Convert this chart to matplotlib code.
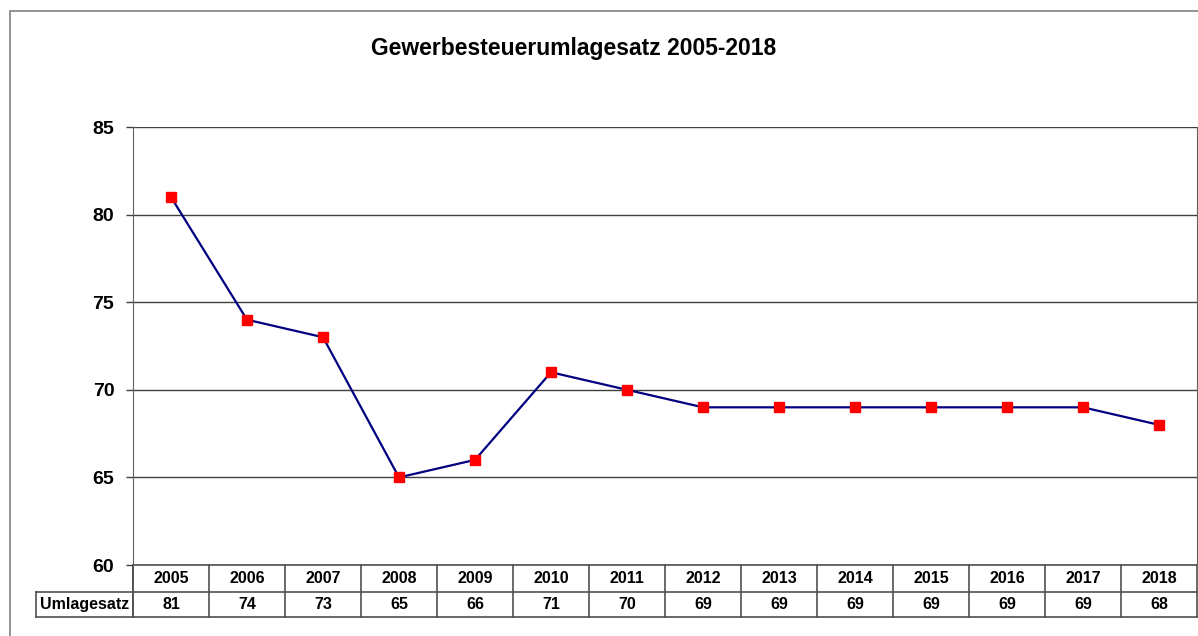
import matplotlib
matplotlib.use("Agg")
import matplotlib.pyplot as plt
from matplotlib.patches import Rectangle
from matplotlib.lines import Line2D
import matplotlib.transforms as mtransforms

years = ["2005", "2006", "2007", "2008", "2009", "2010", "2011",
         "2012", "2013", "2014", "2015", "2016", "2017", "2018"]
values = [81, 74, 73, 65, 66, 71, 70, 69, 69, 69, 69, 69, 69, 68]
yticks = [60, 65, 70, 75, 80, 85]
title = "Gewerbesteuerumlagesatz 2005-2018"
row_label = "Umlagesatz"

plt.rcParams['font.family'] = ['Liberation Sans', 'DejaVu Sans']

W, H = 1198, 636
fig = plt.figure(figsize=(W / 100, H / 100), dpi=100)

# outer chart border
fig.add_artist(Rectangle((9.5 / W, -0.2), 1.2, 1.2 - 10.5 / H, transform=fig.transFigure,
                         fill=False, edgecolor="#808080", linewidth=1.2))

left, right, top, bottom = 133, 1197, 127, 565
ax = fig.add_axes([left / W, 1 - bottom / H, (right - left) / W, (bottom - top) / H])

x = list(range(len(years)))
ax.plot(x, values, color="#000080", linewidth=1.6, zorder=3)
ax.plot(x, values, linestyle="none", marker="s", markersize=6.5,
        markerfacecolor="#ff0000", markeredgecolor="#ff0000", zorder=4)

ax.set_xlim(-0.5, len(years) - 0.5)
ax.set_ylim(yticks[0], yticks[-1])
ax.set_yticks(yticks)
ax.set_yticklabels([str(v) for v in yticks], fontsize=14, fontweight="bold")
ax.tick_params(axis="y", direction="out", length=5, width=1, color="#404040", pad=8.5)
ax.set_xticks([])
ax.yaxis.grid(True, color="#404040", linewidth=1)
ax.set_axisbelow(True)
for s in ["top", "bottom"]:
    ax.spines[s].set_visible(False)
ax.spines["left"].set_color("#606060")
ax.spines["right"].set_color("#606060")

fig.text(574 / W, 1 - 48 / H, title, ha="center", va="center",
         fontsize=16.5, fontweight="bold")

# data table below the axes
ah = bottom - top
aw = right - left
y0 = 0.0
y1 = -(592 - bottom) / ah
y2 = -(617 - bottom) / ah
trans = mtransforms.blended_transform_factory(ax.transData, ax.transAxes)
lc = "#505050"
n = len(years)
for i in range(n + 1):
    ax.add_line(Line2D([i - 0.5, i - 0.5], [y0, y2], transform=trans, color=lc,
                       linewidth=1.2, clip_on=False))
xl = -(left - 36) / aw
for yy in [y0, y1, y2]:
    xs = [0, 1] if yy == y0 else [xl, 1]
    ax.add_line(Line2D(xs, [yy, yy], transform=ax.transAxes, color=lc,
                       linewidth=1.2, clip_on=False))
ax.add_line(Line2D([xl, xl], [y1, y2], transform=ax.transAxes, color=lc,
                   linewidth=1.2, clip_on=False))
ax.add_line(Line2D([0, 0], [y0, y2], transform=ax.transAxes, color=lc,
                   linewidth=1.2, clip_on=False))
for i, (yr, v) in enumerate(zip(years, values)):
    ax.text(i, (y0 + y1) / 2, yr, transform=trans, ha="center", va="center",
            fontsize=11.5, fontweight="bold", clip_on=False)
    ax.text(i, (y1 + y2) / 2, str(v), transform=trans, ha="center", va="center",
            fontsize=11.5, fontweight="bold", clip_on=False)
ax.text(xl + 4 / aw, (y1 + y2) / 2, row_label, transform=ax.transAxes, ha="left",
        va="center", fontsize=11.5, fontweight="bold", clip_on=False)

fig.savefig("out.png", dpi=100)
